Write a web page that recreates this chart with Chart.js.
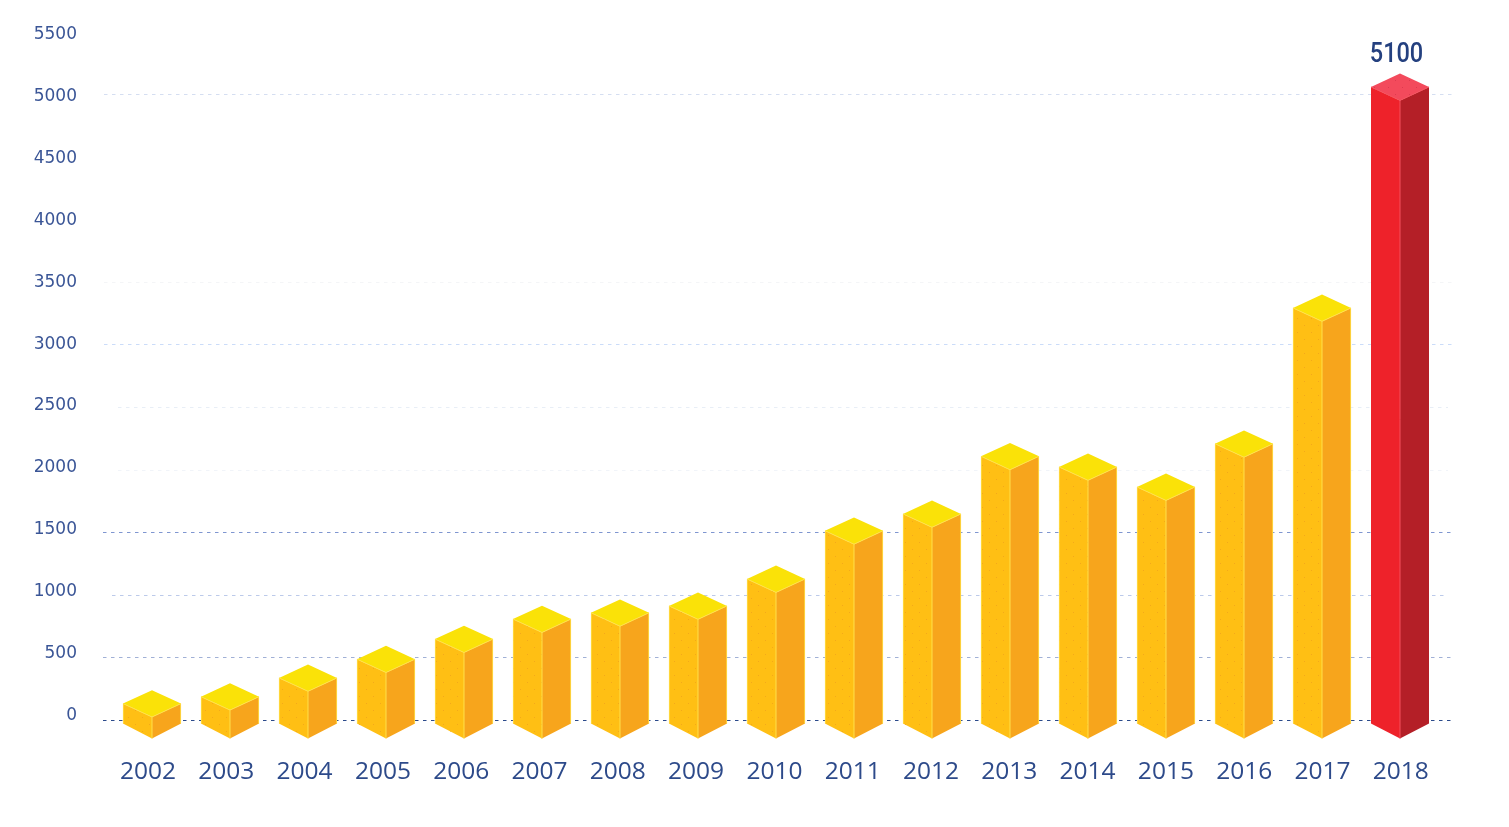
<!DOCTYPE html>
<html>
<head>
<meta charset="utf-8">
<style>
  html, body { margin: 0; padding: 0; background: #fff; }
  #wrap { width: 1509px; height: 827px; }
</style>
<script src="https://cdn.jsdelivr.net/npm/chart.js@4/dist/chart.umd.min.js"></script>
</head>
<body>
<div id="wrap"><canvas id="barChart" width="1509" height="827"></canvas></div>
<script>
// Chart data
const years = ['2002','2003','2004','2005','2006','2007','2008','2009','2010','2011','2012','2013','2014','2015','2016','2017','2018'];
const values = [175,230,380,530,690,850,900,955,1170,1555,1690,2150,2065,1905,2250,3335,5100];
const yTicks = [0,500,1000,1500,2000,2500,3000,3500,4000,4500,5000,5500];
const labelledYear = '2018';

// Dashed reference lines: value, colour, from, to
const gridLines = [
    [0, '#2b4a8b', 103, 1451],
    [500, '#a0b0d6', 103, 1451],
    [1000, '#bccaea', 112, 1448],
    [1500, '#7f96d0', 103, 1454],
    [2000, '#f1f4f9', 118, 1448],
    [2500, '#e8eef6', 118, 1448],
    [3000, '#cbdcf9', 104, 1454],
    [3500, '#f4f5f7', 104, 1454],
    [5000, '#d5def1', 104, 1454]
];

// Face colours
const yellowFaces = { front: '#ffbf14', side: '#f7a51c', top: '#fae208', edge: '#ffe04a', dots: '#f3a91a', dotted: 'front' };
const redFaces = { front: '#ee222a', side: '#b41f27', top: '#f34a5c', edge: '#f4505c', dots: '#dd3a50', dotted: 'top' };

const HALF_W = 29;
const TOP_H = 13.4;
const TOP_SHIFT = 5.5;   // top diamond sits a bit under the value line
const BASE_SHIFT = 3.5;
const BASE_DROP = 15;

function facesFor(i) {
    return years[i] === labelledYear ? redFaces : yellowFaces;
}

function trace(ctx, pts) {
    ctx.beginPath();
    pts.forEach((p, i) => i ? ctx.lineTo(p[0], p[1]) : ctx.moveTo(p[0], p[1]));
}

// Faint speckle the source picture has on one face of each box
function dotPattern(ctx, color) {
    const tile = document.createElement('canvas');
    tile.width = 14;
    tile.height = 14;
    const t = tile.getContext('2d');
    t.fillStyle = color;
    t.fillRect(2, 3, 1, 1);
    t.fillRect(9, 10, 1, 1);
    return ctx.createPattern(tile, 'repeat');
}

function face(ctx, pts, fill, dots) {
    trace(ctx, pts);
    ctx.closePath();
    ctx.fillStyle = fill;
    ctx.fill();
    if (dots) {
        ctx.fillStyle = dots;
        ctx.fill();
    }
}

// Draws the reference lines below the bars
const dashedGrid = {
    id: 'dashedGrid',
    beforeDatasetsDraw(chart) {
        const { ctx, scales } = chart;
        ctx.save();
        ctx.lineWidth = 1;
        ctx.setLineDash([3.5, 4.5]);
        gridLines.forEach(([v, color, x0, x1]) => {
            const y = Math.round(scales.y.getPixelForValue(v)) + 0.5;
            ctx.strokeStyle = color;
            ctx.beginPath();
            ctx.moveTo(x0, y);
            ctx.lineTo(x1, y);
            ctx.stroke();
        });
        ctx.restore();
    }
};

// Draws each bar as a box, from the positions Chart.js worked out
const boxBars = {
    id: 'boxBars',
    beforeDatasetDraw(chart, args) {
        const { ctx, scales } = chart;
        const bars = args.meta.data;
        ctx.save();
        bars.forEach((bar, i) => {
            const faces = facesFor(i);
            const dots = dotPattern(ctx, faces.dots);
            const x = bar.x;
            const topY = bar.y + TOP_SHIFT;
            const baseY = scales.y.getPixelForValue(0) + BASE_SHIFT;
            const l = x - HALF_W, r = x + HALF_W;

            face(ctx, [[l, topY], [x, topY + TOP_H], [x, baseY + BASE_DROP], [l, baseY]], faces.front, faces.dotted === 'front' ? dots : null);
            face(ctx, [[x, topY + TOP_H], [r, topY], [r, baseY], [x, baseY + BASE_DROP]], faces.side);
            face(ctx, [[l, topY], [x, topY - TOP_H], [r, topY], [x, topY + TOP_H]], faces.top, faces.dotted === 'top' ? dots : null);

            // Light edges round the front of the box
            ctx.strokeStyle = faces.edge;
            ctx.lineWidth = 1;
            trace(ctx, [[x, baseY + BASE_DROP], [x, topY + TOP_H]]);
            ctx.stroke();
            trace(ctx, [[l, topY], [x, topY + TOP_H], [r, topY]]);
            ctx.stroke();
            if (faces === yellowFaces) {
                ctx.lineWidth = 0.8;
                trace(ctx, [[l + 0.4, topY], [l + 0.4, baseY]]);
                ctx.stroke();
                trace(ctx, [[r - 0.4, topY], [r - 0.4, baseY]]);
                ctx.stroke();
            }

            if (years[i] === labelledYear) {
                ctx.save();
                ctx.translate(x - 3.5, topY - 25);
                ctx.scale(0.84, 1);
                ctx.fillStyle = '#24407f';
                ctx.font = '500 28px Roboto, sans-serif';
                ctx.textAlign = 'center';
                ctx.textBaseline = 'alphabetic';
                ctx.fillText(String(values[i]), 0, 0);
                ctx.restore();
            }
        });
        ctx.restore();
        return false; // the box replaces the normal bar
    }
};

function noAxisPadding(scale) {
    scale.paddingTop = 0;
    scale.paddingBottom = 0;
    scale.paddingLeft = 0;
    scale.paddingRight = 0;
}

const chart = new Chart(document.getElementById('barChart').getContext('2d'), {
    type: 'bar',
    data: {
        labels: years,
        datasets: [{
            data: values,
            backgroundColor: years.map(y => y === labelledYear ? redFaces.front : yellowFaces.front),
            xAxisID: 'x',
            yAxisID: 'y'
        }]
    },
    options: {
        responsive: false,
        animation: false,
        devicePixelRatio: 1,
        layout: { padding: { top: 31.4, right: 70, bottom: 0, left: 0 } },
        plugins: { legend: { display: false }, tooltip: { enabled: false } },
        scales: {
            // Data axes, not shown
            x: { type: 'category', display: false },
            y: { type: 'linear', display: false, min: 0, max: 5500 },
            // Axes that carry the printed labels
            xLabels: {
                type: 'linear',
                position: 'bottom',
                bounds: 'data',
                offset: false,
                min: -0.447,
                max: 16.488,
                grid: { display: false, drawTicks: false, offset: false },
                border: { display: false },
                afterBuildTicks(scale) { scale.ticks = years.map((y, i) => ({ value: i })); },
                afterFit(scale) { scale.height = 107; noAxisPadding(scale); },
                ticks: {
                    autoSkip: false,
                    maxRotation: 0,
                    padding: 37,
                    color: '#2d4a8a',
                    font: { family: '"Open Sans"', size: 24.5, weight: '400' },
                    callback: v => years[v]
                }
            },
            yLabels: {
                type: 'linear',
                position: 'left',
                bounds: 'data',
                min: -36.5,
                max: 5526,
                grid: { display: false, drawTicks: false },
                border: { display: false },
                afterBuildTicks(scale) { scale.ticks = yTicks.map(v => ({ value: v })); },
                afterFit(scale) { scale.width = 113; noAxisPadding(scale); },
                ticks: {
                    autoSkip: false,
                    padding: 36,
                    color: '#3a5596',
                    font: { family: '"DejaVu Sans"', size: 17 },
                    callback: v => String(v)
                }
            }
        }
    },
    plugins: [dashedGrid, boxBars]
});
</script>
</body>
</html>
